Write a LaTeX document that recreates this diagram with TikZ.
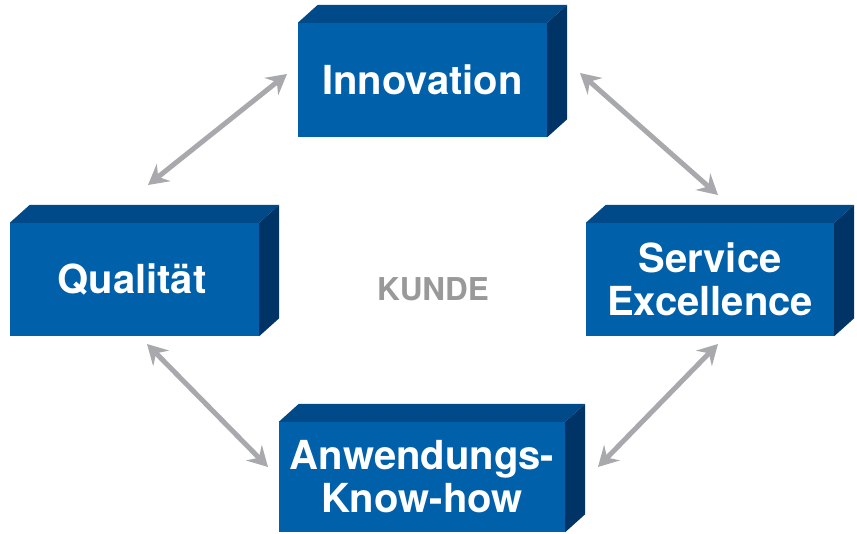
\documentclass[tikz,border=0pt]{standalone}
\usepackage{fontspec}
\setmainfont{TeX Gyre Heros}
\usetikzlibrary{arrows.meta,calc}
\definecolor{frontblue}{RGB}{0,96,170}
\definecolor{topblue}{RGB}{0,74,138}
\definecolor{sideblue}{RGB}{0,52,102}
\definecolor{arrowgray}{RGB}{167,169,172}
\definecolor{kundegray}{RGB}{153,153,153}
\tikzset{
  front/.style={rectangle, fill=frontblue, inner sep=0pt, align=center,
    text=white, font=\fontsize{40}{43}\selectfont\bfseries},
  topface/.style={fill=topblue},
  sideface/.style={fill=sideblue},
  link/.style={arrowgray, line width=5pt,
    {Stealth[length=20pt,width=22pt,inset=7pt]}-{Stealth[length=20pt,width=22pt,inset=7pt]}},
}
\newcommand{\boxfaces}[1]{%
  \fill[topface] (#1.north west) -- ++(20,-18) -- ($(#1.north east)+(20,-18)$) -- (#1.north east) -- cycle;
  \fill[sideface] (#1.north east) -- ++(20,-18) -- ($(#1.south east)+(20,-18)$) -- (#1.south east) -- cycle;
}
\begin{document}
\begin{tikzpicture}[x=1pt,y=-1pt]
\useasboundingbox (0,0) rectangle (857,533);
\node[front, minimum width=249pt, minimum height=114pt] (inno) at (422.5,80) {Innovation};
\node[front, minimum width=249pt, minimum height=113pt] (qual) at (134.5,279.5) {\hspace{-5pt}Qualität};
\node[front, minimum width=248pt, minimum height=113pt] (serv) at (710,279.5) {Service\\Excellence};
\node[front, minimum width=286pt, minimum height=110pt] (anw) at (422,477) {Anwendungs-\\Know-how};
\boxfaces{inno}
\boxfaces{qual}
\boxfaces{serv}
\boxfaces{anw}
\node[font=\fontsize{31.5}{34}\selectfont\bfseries, text=kundegray] (kunde) at (433,289) {KUNDE};
\coordinate (a1) at (148,185);
\coordinate (a2) at (287,74);
\coordinate (b1) at (580,73);
\coordinate (b2) at (718,195);
\coordinate (c1) at (147,344);
\coordinate (c2) at (268,467);
\coordinate (d1) at (718,344);
\coordinate (d2) at (598,467);
\draw[link] (a1) -- (a2);
\draw[link] (b1) -- (b2);
\draw[link] (c1) -- (c2);
\draw[link] (d1) -- (d2);
\end{tikzpicture}
\end{document}
